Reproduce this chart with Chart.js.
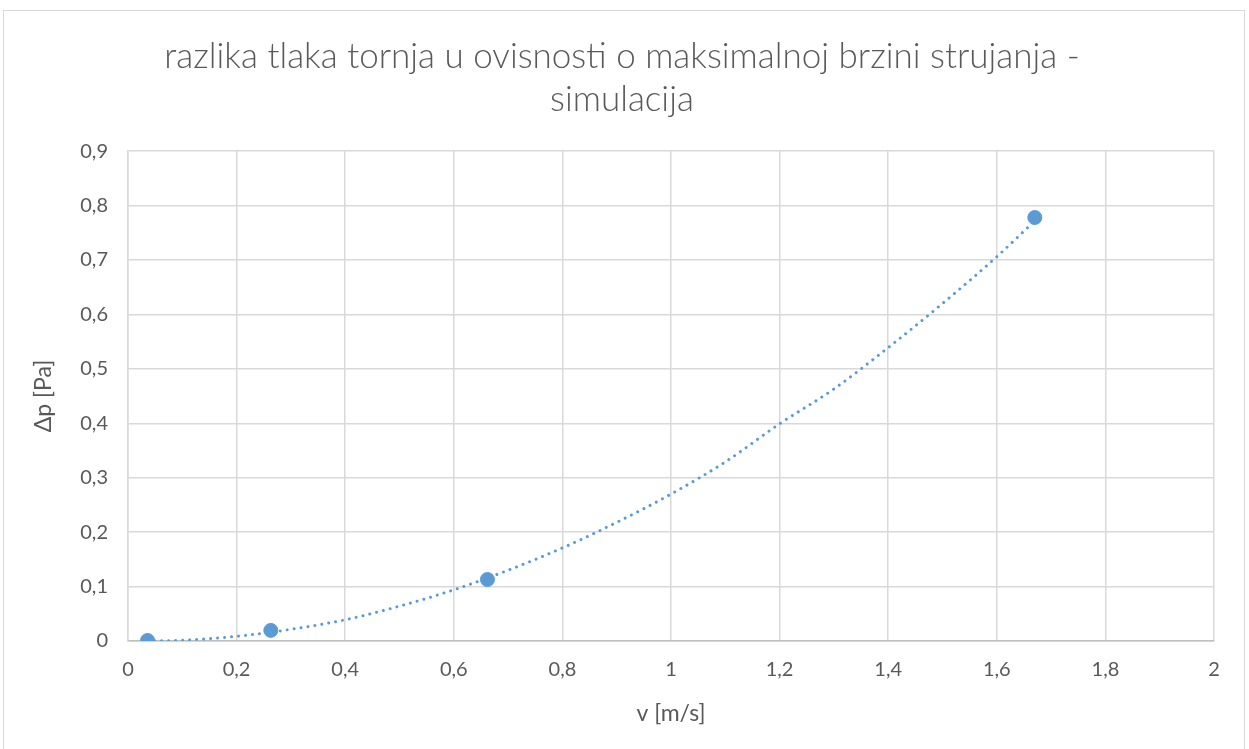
<!DOCTYPE html>
<html>
<head>
<meta charset="utf-8">
<script src="https://cdn.jsdelivr.net/npm/chart.js@4/dist/chart.umd.min.js"></script>
<style>
  html, body { margin: 0; padding: 0; background: #fff; }
  #okvir {
    position: absolute; left: 3px; top: 10px; width: 1242px; height: 760px;
    border: 1px solid #d9d9d9; box-sizing: border-box;
  }
  #wrap { position: absolute; left: 0; top: 0; width: 1249px; height: 749px; }
</style>
</head>
<body>
<div id="okvir"></div>
<div id="wrap"><canvas id="graf"></canvas></div>
<script>
// Izmjereni podaci simulacije: brzina [m/s] i razlika tlaka [Pa]
const brzine = [0.036, 0.263, 0.662, 1.67];
const razlikeTlaka = [0.001, 0.0195, 0.113, 0.778];

// Polinomna linija trenda (očitane točke krivulje)
const trendX = [0.036, 0.1, 0.2, 0.3, 0.4, 0.5, 0.6, 0.7, 0.8, 0.9, 1.0, 1.1, 1.2, 1.3, 1.4, 1.5, 1.6, 1.67];
const trendY = [0.0, 0.0014, 0.0086, 0.0215, 0.039, 0.064, 0.094, 0.13, 0.171, 0.218, 0.27, 0.329, 0.399, 0.463, 0.539, 0.62, 0.706, 0.772];

// Oznake osi
const xOznake = ['0', '0,2', '0,4', '0,6', '0,8', '1', '1,2', '1,4', '1,6', '1,8', '2'];
const yOznake = ['0', '0,1', '0,2', '0,3', '0,4', '0,5', '0,6', '0,7', '0,8', '0,9'];

const naslov = ['razlika tlaka tornja u ovisnosti o maksimalnoj brzini strujanja -', 'simulacija'];

const PLAVA = '#5b9bd5';
const SIVA_TEKST = '#595959';
const FONT = 'Lato, "Open Sans", sans-serif';

const tocke = brzine.map((v, i) => ({ x: v, y: razlikeTlaka[i] }));
const trend = trendX.map((v, i) => ({ x: v, y: trendY[i] }));

const ctx = document.getElementById('graf').getContext('2d');
new Chart(ctx, {
    type: 'scatter',
    data: {
        datasets: [
            {
                label: 'simulacija',
                data: tocke,
                backgroundColor: PLAVA,
                borderColor: PLAVA,
                pointRadius: 7,
                pointHoverRadius: 7,
                order: 0
            },
            {
                label: 'trend',
                type: 'line',
                data: trend,
                borderColor: PLAVA,
                borderWidth: 3,
                borderDash: [0.01, 7],
                borderCapStyle: 'round',
                cubicInterpolationMode: 'monotone',
                pointRadius: 0,
                fill: false,
                order: 1
            }
        ]
    },
    options: {
        responsive: true,
        maintainAspectRatio: false,
        animation: false,
        layout: { padding: { left: 30, right: 35, top: 10, bottom: 8 } },
        plugins: {
            legend: { display: false },
            tooltip: { enabled: false },
            title: {
                display: true,
                text: naslov,
                color: SIVA_TEKST,
                font: { family: FONT, size: 35, weight: '300', lineHeight: 1.23 },
                padding: { top: 25, bottom: 30 }
            }
        },
        scales: {
            x: {
                type: 'linear',
                min: 0,
                max: 2,
                afterFit: s => { s.height = 100; },
                ticks: {
                    stepSize: 0.2,
                    padding: 17,
                    color: SIVA_TEKST,
                    font: { family: FONT, size: 20 },
                    callback: (v, i) => xOznake[i]
                },
                grid: { color: '#d9d9d9', lineWidth: 1.5, drawTicks: false },
                border: { color: '#bfbfbf', width: 1.5 },
                title: {
                    display: true,
                    text: 'v [m/s]',
                    color: SIVA_TEKST,
                    font: { family: FONT, size: 23 },
                    padding: { top: 0, bottom: 14 }
                }
            },
            y: {
                type: 'linear',
                min: 0,
                max: 0.9,
                afterFit: s => { s.width = 98; },
                ticks: {
                    stepSize: 0.1,
                    padding: 20,
                    color: SIVA_TEKST,
                    font: { family: FONT, size: 20 },
                    callback: (v, i) => yOznake[i]
                },
                grid: { color: '#d9d9d9', lineWidth: 1.5, drawTicks: false },
                border: { color: '#d9d9d9', width: 1.5 },
                title: {
                    display: true,
                    text: 'Δp [Pa]',
                    color: SIVA_TEKST,
                    font: { family: FONT, size: 23 },
                    padding: { top: 0, bottom: 0 }
                }
            }
        }
    }
});
</script>
</body>
</html>
